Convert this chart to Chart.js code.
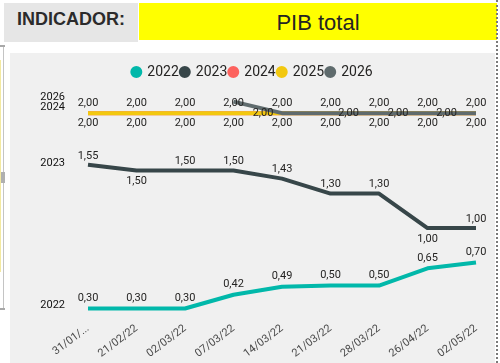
<!DOCTYPE html>
<html><head><meta charset="utf-8">
<script src="https://cdn.jsdelivr.net/npm/chart.js@4/dist/chart.umd.min.js"></script>
<style>
html,body{margin:0;padding:0;width:500px;height:363px;overflow:hidden;background:#fff;}
#hdrL{position:absolute;left:4px;top:3px;width:134px;height:39px;background:#e6e6e6;font:bold 18px "Liberation Sans",Arial,sans-serif;color:#2b2b2b;line-height:33px;padding-left:13px;box-sizing:border-box;white-space:nowrap;}
#hdrR{position:absolute;left:139px;top:3px;width:358px;height:37px;background:#ffff00;font:22px "Liberation Sans",Arial,sans-serif;color:#252423;text-align:center;line-height:40px;}
#panel{position:absolute;left:10px;top:53px;width:485px;height:310px;background:#f0f0f0;}
#dots{position:absolute;left:496px;top:0;width:0;height:363px;border-left:2px dotted #7a7a7a;}
#frame{position:absolute;left:3px;top:45px;width:1px;height:265px;background:#c4c4c4;}
#c1{position:absolute;left:0;top:45px;width:5px;height:2px;background:#a8a8a8;}
#c2{position:absolute;left:0;top:308px;width:5px;height:2px;background:#a8a8a8;}
#handle{position:absolute;left:1px;top:172px;width:4px;height:11px;background:#b0b0b0;}
#ystrip{position:absolute;left:0;top:60px;width:1px;height:212px;background:#f3e9a0;}
canvas{position:absolute;left:0;top:0;}
</style></head>
<body>
<div id="hdrL">INDICADOR:</div>
<div id="hdrR">PIB total</div>
<div id="frame"></div><div id="c1"></div><div id="c2"></div><div id="handle"></div><div id="ystrip"></div>
<div id="panel"><canvas id="chart" width="485" height="310"></canvas></div>
<div id="dots"></div>
<script>
const categories = ["31/01/...", "21/02/22", "02/03/22", "07/03/22", "14/03/22", "21/03/22", "28/03/22", "26/04/22", "02/05/22"];
const seriesNames = ["2022", "2023", "2024", "2025", "2026"];
const s2022 = [0.30, 0.30, 0.30, 0.42, 0.49, 0.50, 0.50, 0.65, 0.70];
const s2023 = [1.55, 1.50, 1.50, 1.50, 1.43, 1.30, 1.30, 1.00, 1.00];
const s2024 = [2.00, 2.00, 2.00, 2.00, 2.00, 2.00, 2.00, 2.00, 2.00];
const s2025 = [2.00, 2.00, 2.00, 2.00, 2.00, 2.00, 2.00, 2.00, 2.00];
const s2026 = [null, null, null, 2.10, 2.00, 2.00, 2.00, 2.00, 2.00];

const colors = ["#01B8AA", "#374649", "#FD625E", "#F2C80F", "#5F6B6D"];
const values = [s2022, s2023, s2024, s2025, s2026];
const drawOrder = [4, 3, 2, 1, 0];

const FONT = "Roboto, 'Liberation Sans', sans-serif";

// label placement rules per series: dy offset (px) and per-index overrides
const labelRules = [
  {dy: -10},
  {dy: -9, below: [1, 7], dyBelow: 11},
  {dy: -10},
  {dy: 10},
  {dy: 0, only: {4: -19, 5: 18, 6: 19, 7: 19}}
];
const nameOffsets = [-3, -2, -6, null, -4];

const fmt = v => v.toFixed(2).replace('.', ',');

const labelPlugin = {
  id: 'pbiLabels',
  afterDatasetsDraw(chart) {
    const ctx = chart.ctx;
    ctx.save();
    ctx.font = "11px " + FONT;
    ctx.fillStyle = "#252423";
    ctx.textAlign = "center";
    ctx.textBaseline = "middle";
    chart.data.datasets.forEach((ds, di) => {
      const meta = chart.getDatasetMeta(di);
      const rule = labelRules[di];
      meta.data.forEach((pt, i) => {
        const v = ds.data[i];
        if (v === null || v === undefined) return;
        let dx = 0, dy = rule.dy;
        if (rule.only) {
          if (!(i in rule.only)) return;
          dx = rule.only[i];
        }
        if (rule.below && rule.below.includes(i)) dy = rule.dyBelow;
        ctx.fillText(fmt(v), pt.x + dx, pt.y + dy);
      });
    });
    // series names at the left
    ctx.textAlign = "right";
    ctx.fillStyle = "#111";
    const ys = chart.scales.y;
    chart.data.datasets.forEach((ds, di) => {
      if (nameOffsets[di] === null) return;
      const first = ds.data.find(v => v !== null);
      ctx.fillText(ds.label, chart.chartArea.left - 23, ys.getPixelForValue(first) + nameOffsets[di]);
    });
    ctx.restore();
  }
};

new Chart(document.getElementById('chart'), {
  type: 'line',
  data: {
    labels: categories,
    datasets: seriesNames.map((n, i) => ({
      label: n,
      data: values[i],
      borderColor: colors[i],
      backgroundColor: colors[i],
      borderWidth: 4,
      pointRadius: 0,
      pointHoverRadius: 0,
      pointStyle: 'circle',
      tension: 0,
      borderJoinStyle: 'round',
      order: drawOrder[i],
      spanGaps: false
    }))
  },
  options: {
    responsive: false,
    animation: false,
    events: [],
    layout: {padding: {top: 10, left: 0, right: 0, bottom: 0}},
    plugins: {
      tooltip: {enabled: false},
      legend: {
        position: 'top',
        align: 'center',
        labels: {
          usePointStyle: true,
          pointStyle: 'circle',
          boxWidth: 8,
          boxHeight: 5.66,
          pointStyleWidth: 8,
          padding: 2,
          color: '#252423',
          font: {family: FONT, size: 14},
          sort: (a, b) => a.datasetIndex - b.datasetIndex
        }
      }
    },
    scales: {
      x: {
        type: 'category',
        offset: false,
        grid: {display: false, drawTicks: false},
        border: {display: false},
        ticks: {minRotation: 37, maxRotation: 37, autoSkip: false, padding: 2, color: '#4a4a4a', font: {family: FONT, size: 11}},
        afterFit(s) { s.height = 43; }
      },
      y: {
        min: 0.2, max: 2.21,
        grid: {display: false},
        border: {display: false},
        ticks: {display: false},
        afterFit(s) { s.width = 78; }
      },
      yR: {
        position: 'right',
        min: 0, max: 1,
        grid: {display: false},
        border: {display: false},
        ticks: {display: false},
        afterFit(s) { s.width = 19; }
      }
    }
  },
  plugins: [labelPlugin]
});
</script>
</body></html>
